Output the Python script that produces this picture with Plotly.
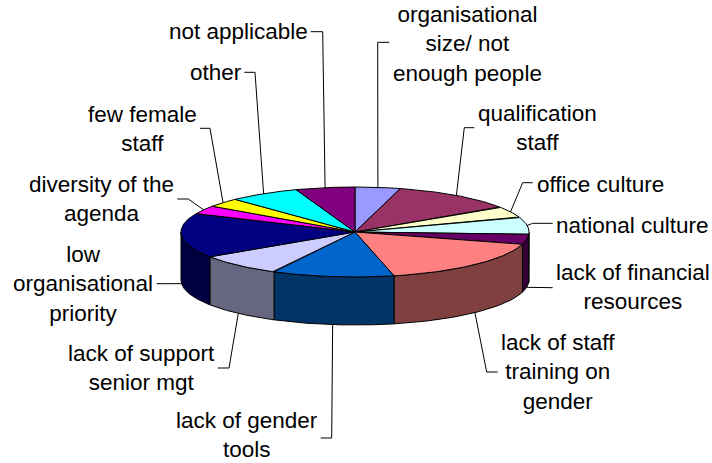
import numpy as np
import plotly.graph_objects as go

# Share of responses per barrier, clockwise from twelve o'clock
categories = [
    "organisational size/ not enough people", "qualification staff", "office culture",
    "national culture", "lack of financial resources", "lack of staff training on gender",
    "lack of gender tools", "lack of support senior mgt", "low organisational priority",
    "diversity of the agenda", "few female staff", "other", "not applicable",
]
values = [4.2, 11.4, 4.0, 6.2, 3.6, 17.0, 11.3, 8.0, 16.0, 3.0, 3.2, 6.6, 5.5]

top_colors = ["#9999FF", "#993366", "#FFFFCC", "#CCFFFF", "#660066", "#FF8080", "#0066CC",
              "#CCCCFF", "#000080", "#FF00FF", "#FFFF00", "#00FFFF", "#800080"]
wall_colors = ["#4D4D80", "#4D1A33", "#808066", "#668080", "#330033", "#804040", "#003366",
               "#666680", "#000040", "#800080", "#808000", "#008080", "#400040"]

# Wrapped label text with its centre, and the leader's elbow and end next to the text
label_text = [
    "organisational<br>size/ not<br>enough people", "qualification<br>staff", "office culture",
    "national culture", "lack of financial<br>resources", "lack of staff<br>training on<br>gender",
    "lack of gender<br>tools", "lack of support<br>senior mgt", "low<br>organisational<br>priority",
    "diversity of the<br>agenda", "few female<br>staff", "other", "not applicable",
]
label_x = [467, 537, 600.5, 632.5, 632.7, 557.7, 246.8, 141.7, 82.7, 101.8, 142, 215.7, 238]
label_y = [44, 127.5, 184, 225, 287, 372, 435, 367.5, 284, 199, 129, 72.7, 31.7]
elbow_x = [377.7, 464.3, 522.7, 532.7, 541, 486.7, 331.7, 229, 170, 188.3, 210, 255, 322.7]
elbow_y = [42.3, 127.7, 182.7, 223.3, 287.7, 372, 438, 368, 283.7, 199, 128.3, 72.3, 31.7]
end_x = [389.3, 474.3, 532.7, 552.7, 552.7, 497.7, 320.7, 217.7, 156.7, 177.3, 200, 244.3, 310.7]
end_y = [42.3, 127.7, 182.7, 223.3, 287.7, 372, 438, 368, 283.7, 199, 128.3, 72.3, 31.7]

# Projected disc: centre, radii of the top ellipse and wall height
CX, CY, RX, RY, DEPTH = 355.0, 232.0, 174.0, 45.0, 48.0
FONT = dict(family="Liberation Sans, Arial, sans-serif", size=22.5, color="#000000")

edges = np.concatenate([[0.0], np.cumsum(values)]) / np.sum(values) * 360.0


def rim(deg):
    rad = np.radians(deg)
    return CX + RX * np.sin(rad), CY - RY * np.cos(rad)


fig = go.Figure()


def polygon(xs, ys, fill, name):
    fig.add_trace(go.Scatter(
        x=xs, y=ys, mode="lines", fill="toself", fillcolor=fill,
        line=dict(color="#000000", width=1), name=name, hoverinfo="name", showlegend=False,
    ))


# Outer walls only show along the front half of the disc
for i, name in enumerate(categories):
    lo, hi = max(edges[i], 90.0), min(edges[i + 1], 270.0)
    if hi > lo:
        ax, ay = rim(np.linspace(lo, hi, 60))
        xs = np.concatenate([ax, ax[::-1], ax[:1]])
        ys = np.concatenate([ay, ay[::-1] + DEPTH, ay[:1]])
        polygon(xs, ys, wall_colors[i], name)

# Top faces
for i, name in enumerate(categories):
    ax, ay = rim(np.linspace(edges[i], edges[i + 1], 60))
    polygon(np.concatenate([[CX], ax, [CX]]), np.concatenate([[CY], ay, [CY]]), top_colors[i], name)

# Leader lines run from the middle of each slice's rim to its label
for i, name in enumerate(categories):
    mid = (edges[i] + edges[i + 1]) / 2
    sx, sy = rim(mid)
    if 90.0 < mid < 270.0:
        sy += DEPTH
    fig.add_trace(go.Scatter(
        x=[sx, elbow_x[i], end_x[i]], y=[sy, elbow_y[i], end_y[i]], mode="lines",
        line=dict(color="#000000", width=1), hoverinfo="skip", showlegend=False,
    ))

annotations = [
    dict(x=x, y=y, text=t, xref="x", yref="y", showarrow=False, xanchor="center",
         yanchor="middle", align="center", font=FONT)
    for x, y, t in zip(label_x, label_y, label_text)
]

fig.update_layout(
    width=712, height=463, margin=dict(l=0, r=0, t=0, b=0),
    paper_bgcolor="#FFFFFF", plot_bgcolor="#FFFFFF", annotations=annotations,
    xaxis=dict(range=[0, 712], visible=False, fixedrange=True),
    yaxis=dict(range=[463, 0], visible=False, fixedrange=True),
)
fig.write_html("out.html", config={"displayModeBar": False})
